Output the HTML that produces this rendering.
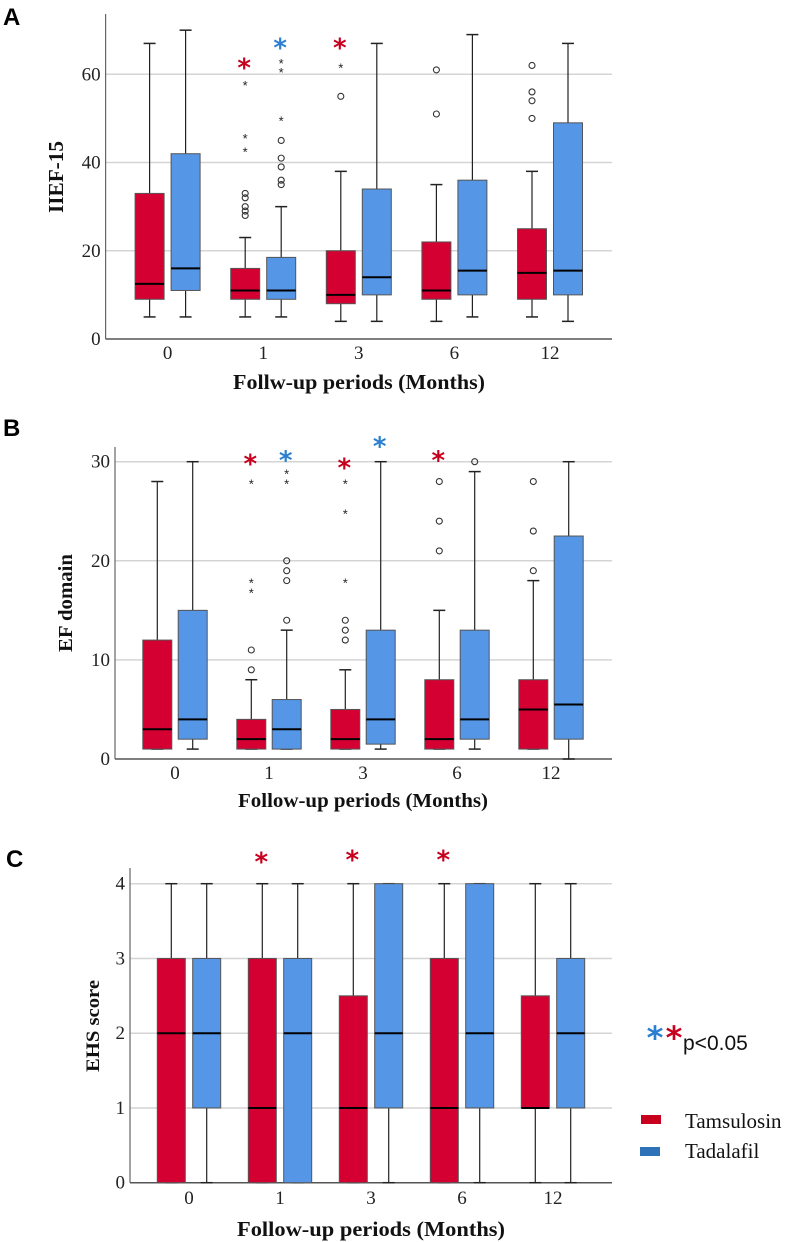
<!DOCTYPE html>
<html><head><meta charset="utf-8">
<style>
html,body{margin:0;padding:0;background:#fff;}
svg{display:block;}
.tick{font-family:"Liberation Serif",serif;font-size:19px;fill:#222;}
.title{font-family:"Liberation Serif",serif;font-weight:bold;fill:#111;}
.letter{font-family:"Liberation Sans",sans-serif;font-size:24px;font-weight:bold;fill:#000;}
</style></head>
<body>
<svg id="chart" width="792" height="1242" viewBox="0 0 792 1242"></svg>
<script>
// ---- data ----
const categories = ["0","1","3","6","12"];
// Panel A: IIEF-15  [min, q1, median, q3, max]
const aTamsulosin = [[5,9,12.5,33,67],[5,9,11,16,23],[4,8,10,20,38],[4,9,11,22,35],[5,9,15,25,38]];
const aTadalafil  = [[5,11,16,42,70],[5,9,11,18.5,30],[4,10,14,34,67],[5,10,15.5,36,69],[4,10,15.5,49,67]];
const aTamCircles = [[],[28,29,30,32,33],[55],[51,61],[50,54,56,62]];
const aTamStars   = [[],[43,46,58],[62],[],[]];
const aTadCircles = [[],[35,36,39,41,45],[],[],[]];
const aTadStars   = [[],[50,61,63],[],[],[]];
const aTamSig     = [null,62.5,67,null,null];
const aTadSig     = [null,67,null,null,null];
const aTicks = [0,20,40,60];
// Panel B: EF domain
const bTamsulosin = [[1,1,3,12,28],[1,1,2,4,8],[1,1,2,5,9],[1,1,2,8,15],[1,1,5,8,18]];
const bTadalafil  = [[1,2,4,15,30],[1,1,3,6,13],[1,1.5,4,13,30],[1,2,4,13,29],[0,2,5.5,22.5,30]];
const bTamCircles = [[],[9,11],[12,13,14],[21,24,28],[19,23,28]];
const bTamStars   = [[],[17,18,28],[18,25,28],[],[]];
const bTadCircles = [[],[14,18,19,20],[],[30],[]];
const bTadStars   = [[],[28,29],[],[],[]];
const bTamSig     = [null,30.2,29.8,30.6,null];
const bTadSig     = [null,30.6,32,null,null];
const bTicks = [0,10,20,30];
// Panel C: EHS score
const cTamsulosin = [[0,0,2,3,4],[0,0,1,3,4],[0,0,1,2.5,4],[0,0,1,3,4],[0,1,1,2.5,4]];
const cTadalafil  = [[0,1,2,3,4],[0,0,2,3,4],[0,1,2,4,4],[0,1,2,4,4],[0,1,2,3,4]];
const cTamSig     = [null,4.35,4.38,4.38,null];
const cTicks = [0,1,2,3,4];

const RED="#d50032", BLUE="#5596e6", SIGRED="#c8001e", SIGBLUE="#2a7fd0";
const svg=document.getElementById('chart');
const NS="http://www.w3.org/2000/svg";
function mk(tag,attrs,parent){const e=document.createElementNS(NS,tag);for(const k in attrs)e.setAttribute(k,attrs[k]);(parent||svg).appendChild(e);return e;}

function panel(cfg){
  const g=mk('g',{});
  
  
  const y=v=>cfg.y0-(v-cfg.ymin)*cfg.k;
  const cx=i=>cfg.x0+cfg.first+i*cfg.step;
  cfg.ticks.forEach(t=>{
    if(t!==cfg.ymin){const l=mk('line',{x1:cfg.x0,x2:cfg.x1,y1:y(t),y2:y(t),stroke:'#d4d4d4','stroke-width':1.5},g);
    
    }
    const tx=mk('text',{x:cfg.x0-5,y:y(t)+6,'text-anchor':'end',class:'tick'},g);
    
    
    tx.textContent=t;
  });
  const ya=mk('line',{x1:cfg.x0,x2:cfg.x0,y1:cfg.yTop,y2:cfg.y0,stroke:'#666','stroke-width':1.2},g);
  
  
  const xa=mk('line',{x1:cfg.x0,x2:cfg.x1,y1:cfg.y0,y2:cfg.y0,stroke:'#555','stroke-width':1.5},g);
  
  
  categories.forEach((c,i)=>{
    const tx=mk('text',{x:cx(i),y:cfg.xlabY,'text-anchor':'middle',class:'tick'},g);
    
    
    tx.textContent=c;
  });
  const series=[{d:cfg.tam,c:RED,off:-cfg.off,circ:cfg.tamC,st:cfg.tamS,sig:cfg.tamSig,sc:SIGRED,n:'tamsulosin'},
                {d:cfg.tad,c:BLUE,off:cfg.off,circ:cfg.tadC,st:cfg.tadS,sig:cfg.tadSig,sc:SIGBLUE,n:'tadalafil'}];
  series.forEach(s=>{
    s.d.forEach((b,i)=>{
      const x=cx(i)+s.off, w=cfg.bw;
      const [mn,q1,md,q3,mx]=b;
      const wl=mk('line',{x1:x,x2:x,y1:y(mx),y2:y(mn),stroke:'#222','stroke-width':1.2},g);
      
      
      [mn,mx].forEach(v=>{const cap=mk('line',{x1:x-6,x2:x+6,y1:y(v),y2:y(v),stroke:'#222','stroke-width':1.5},g);
        
        });
      const r=mk('rect',{x:x-w/2,y:y(q3),width:w,height:Math.max(y(q1)-y(q3),0.5),fill:s.c,stroke:'#555','stroke-width':1},g);
      
      
      const m=mk('line',{x1:x-w/2,x2:x+w/2,y1:y(md),y2:y(md),stroke:'#000','stroke-width':2},g);
      
      
      if(s.circ)(s.circ[i]||[]).forEach(v=>{const c=mk('circle',{cx:x,cy:y(v),r:3,fill:'none',stroke:'#333','stroke-width':1.1},g);
        
        });
      if(s.st)(s.st[i]||[]).forEach(v=>{const t=mk('text',{x:x,y:y(v)+7,'text-anchor':'middle','font-family':'Liberation Sans, sans-serif','font-size':13,fill:'#222'},g);
        
        
        t.textContent='*';});
      if(s.sig&&s.sig[i]!=null){const t=mk('text',{x:x-1,y:y(s.sig[i])+13,'text-anchor':'middle','font-family':'DejaVu Sans, sans-serif','font-size':26,'font-weight':'bold',fill:s.sc},g);
        
        
        t.textContent='*';}
    });
  });
  const yt=mk('text',{x:0,y:0,'text-anchor':'middle',class:'title',transform:`translate(${cfg.ytX},${cfg.ytY}) rotate(-90)`,'font-size':cfg.ytSize,textLength:cfg.ytLen,lengthAdjust:'spacingAndGlyphs'},g);
  
  
  yt.textContent=cfg.ytitle;
  const xt=mk('text',{x:cfg.xtX,y:cfg.xtY,'text-anchor':'middle',class:'title','font-size':cfg.xtSize,textLength:cfg.xtLen,lengthAdjust:'spacingAndGlyphs'},g);
  
  
  xt.textContent=cfg.xtitle;
  const lt=mk('text',{x:cfg.lx,y:cfg.ly,class:'letter'},g);
  
  
  lt.textContent=cfg.letter;
}

panel({name:'panel-a-iief15',letter:'A',lx:3,ly:25,x0:105.6,x1:612,yTop:14,y0:339,ymin:0,k:(339-74.3)/60,
  first:62,step:95.6,off:18,bw:29,ticks:aTicks,xlabY:359,
  tam:aTamsulosin,tad:aTadalafil,tamC:aTamCircles,tamS:aTamStars,tadC:aTadCircles,tadS:aTadStars,tamSig:aTamSig,tadSig:aTadSig,
  ytitle:'IIEF-15',ytX:63,ytY:177,ytSize:21,ytLen:72,xtitle:'Follw-up periods (Months)',xtX:359,xtY:389,xtSize:21,xtLen:252});
panel({name:'panel-b-ef-domain',letter:'B',lx:3,ly:436,x0:115,x1:612,yTop:447,y0:759,ymin:0,k:(759-461.7)/30,
  first:60,step:94,off:17.7,bw:29,ticks:bTicks,xlabY:779,
  tam:bTamsulosin,tad:bTadalafil,tamC:bTamCircles,tamS:bTamStars,tadC:bTadCircles,tadS:bTadStars,tamSig:bTamSig,tadSig:bTadSig,
  ytitle:'EF domain',ytX:72,ytY:603,ytSize:20,ytLen:98,xtitle:'Follow-up periods (Months)',xtX:363,xtY:807,xtSize:20,xtLen:250});
panel({name:'panel-c-ehs-score',letter:'C',lx:6,ly:867,x0:130,x1:612,yTop:868,y0:1182.7,ymin:0,k:(1182.7-883.7)/4,
  first:59,step:91,off:17.7,bw:28,ticks:cTicks,xlabY:1204,
  tam:cTamsulosin,tad:cTadalafil,tamC:null,tamS:null,tadC:null,tadS:null,tamSig:cTamSig,tadSig:null,
  ytitle:'EHS score',ytX:99,ytY:1026,ytSize:19,ytLen:92,xtitle:'Follow-up periods (Months)',xtX:371,xtY:1236,xtSize:21,xtLen:268});

const leg=mk('g',{});


const s1=mk('text',{x:655,y:1049,'text-anchor':'middle','font-family':'DejaVu Sans, sans-serif','font-size':32,'font-weight':'bold',fill:SIGBLUE},leg);


s1.textContent='*';
const s2=mk('text',{x:674,y:1049,'text-anchor':'middle','font-family':'DejaVu Sans, sans-serif','font-size':32,'font-weight':'bold',fill:SIGRED},leg);


s2.textContent='*';
const pt=mk('text',{x:683,y:1050,'font-family':'Liberation Sans, sans-serif','font-size':21,fill:'#111'},leg);


pt.textContent='p<0.05';
const r1=mk('rect',{x:641,y:1115,width:20,height:9,fill:'#c8001e'},leg);


const t1=mk('text',{x:685,y:1128,'font-family':'Liberation Serif, serif','font-size':21,fill:'#111'},leg);


t1.textContent='Tamsulosin';
const r2=mk('rect',{x:640,y:1147,width:20,height:9,fill:'#2e72b8'},leg);


const t2=mk('text',{x:685,y:1158,'font-family':'Liberation Serif, serif','font-size':21,fill:'#111'},leg);


t2.textContent='Tadalafil';
</script>
</body></html>
